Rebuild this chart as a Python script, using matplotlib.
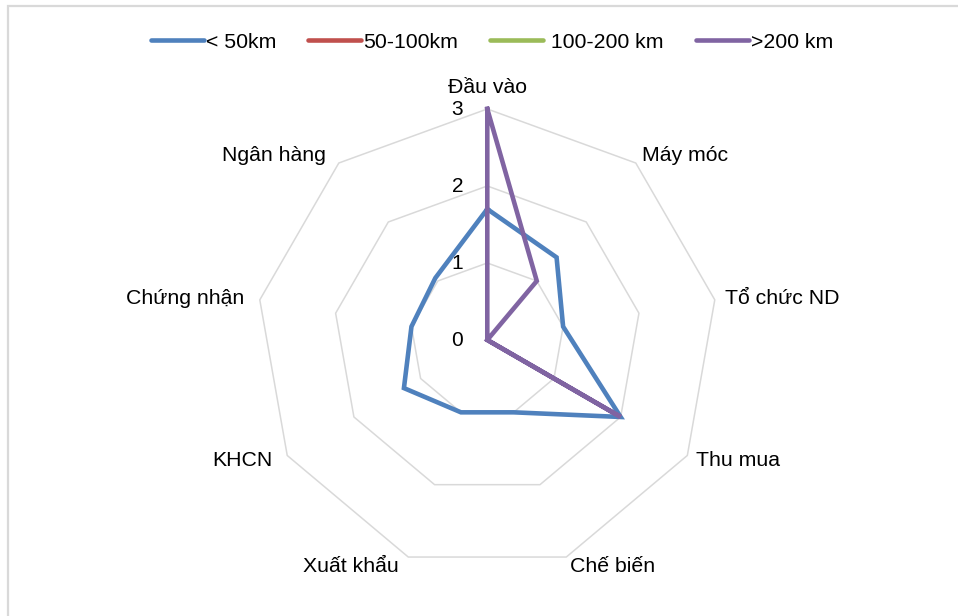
import numpy as np
import matplotlib
matplotlib.use("Agg")
import matplotlib.pyplot as plt
from matplotlib.lines import Line2D
from matplotlib.patches import Rectangle

plt.rcParams["font.family"] = ["Liberation Sans", "DejaVu Sans"]

categories = ["Đầu vào", "Máy móc", "Tổ chức ND", "Thu mua", "Chế biến",
              "Xuất khẩu", "KHCN", "Chứng nhận", "Ngân hàng"]
under_50 = [1.7, 1.4, 1.0, 2.0, 1.0, 1.0, 1.25, 1.0, 1.05]
from_50_100 = [0, 0, 0, 0, 0, 0, 0, 0, 0]
from_100_200 = [0, 0, 0, 0, 0, 0, 0, 0, 0]
over_200 = [3, 1, 0, 2, 0, 0, 0, 0, 0]
series_names = ["< 50km", "50-100km", " 100-200 km", ">200 km"]
ring_values = [1, 2, 3]
tick_values = [0, 1, 2, 3]

colors = ["#4f81bd", "#c0504d", "#9bbb59", "#8064a2"]
grid_color = "#d9d9d9"

fig = plt.figure(figsize=(9.58, 6.16), dpi=100)
fig.patch.set_facecolor("white")

# chart-area border (runs off the right/bottom edge)
fig.patches.append(Rectangle((8 / 958, -0.05), 1.2, 1 - 6 / 616 + 0.05,
                             transform=fig.transFigure, fill=False,
                             edgecolor=grid_color, linewidth=1.6))

ax = fig.add_axes([0.2675, 0.0731, 0.4823, 0.75], projection="polar")
ax.set_theta_offset(np.pi / 2)
ax.set_theta_direction(-1)
ax.set_ylim(0, 3)
ax.grid(False)
ax.set_xticks([])
ax.set_yticks([])
ax.spines["polar"].set_visible(False)
ax.patch.set_visible(False)

n = len(categories)
theta = np.linspace(0, 2 * np.pi, n, endpoint=False)
theta_closed = np.append(theta, theta[0])

# polygon rings
for r in ring_values:
    ax.plot(theta_closed, [r] * (n + 1), color=grid_color, linewidth=1.1,
            zorder=1, clip_on=False)

for vals, color in zip([under_50, from_50_100, from_100_200, over_200], colors):
    v = np.append(vals, vals[0])
    ax.plot(theta_closed, v, color=color, linewidth=3.3, zorder=3,
            clip_on=False, solid_joinstyle="miter")

# category labels outside the outer ring
for t, label in zip(theta, categories):
    s, c = np.sin(t), np.cos(t)
    if abs(s) < 0.1:
        ha, extra = "center", 0
    elif s > 0:
        ha, extra = "left", 0
    else:
        ha, extra = "right", -6
    if c > 0.95:
        va, dx, dy = "bottom", 0, 12
    else:
        va, dx, dy = "center", 10 * s + extra, 10 * c
    ax.annotate(label, (t, 3), xytext=(dx, dy), textcoords="offset pixels",
                ha=ha, va=va, fontsize=15.3, color="black",
                annotation_clip=False)

# value axis labels
for r in tick_values:
    ax.annotate(str(r), (0, r), xytext=(-24, -1), textcoords="offset pixels",
                ha="right", va="center", fontsize=15, color="black",
                annotation_clip=False)

handles = [Line2D([0], [0], color=c, linewidth=3.3, solid_capstyle="round")
           for c in colors]
fig.legend(handles, series_names, loc="center", bbox_to_anchor=(492 / 958, 1 - 42 / 616),
           ncol=4, frameon=False, fontsize=15.3, handlelength=2.5,
           handletextpad=0.1, columnspacing=1.5, borderaxespad=0)

fig.savefig("out.png", dpi=100, facecolor=fig.get_facecolor())
